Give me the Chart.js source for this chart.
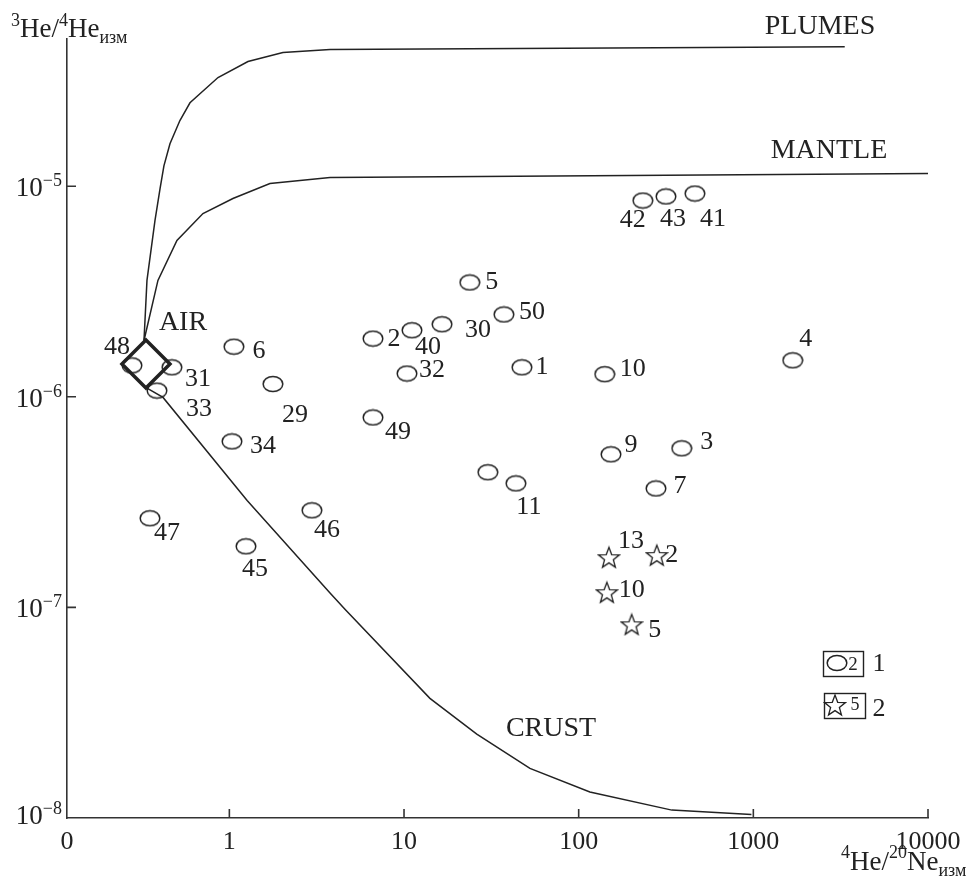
<!DOCTYPE html>
<html>
<head>
<meta charset="utf-8">
<script src="https://cdn.jsdelivr.net/npm/chart.js@4.4.1/dist/chart.umd.min.js"></script>
<style>
  html, body { margin: 0; padding: 0; background: #fff; }
  #wrap { width: 980px; height: 887px; position: relative; }
</style>
</head>
<body>
<div id="wrap"><canvas id="chart"></canvas></div>
<script>
// 4He/20Ne (x) vs 3He/4He (y), both log
const xMin = 0.1176, xMax = 10000
const yMin = 1e-8, yMax = 5e-5
const xTickValues = [xMin, 1, 10, 100, 1000, 10000]
const xTickLabels = ['0', '1', '10', '100', '1000', '10000']
const yTickValues = [1e-5, 1e-6, 1e-7, 1e-8]
const yTickExp = ['−5', '−6', '−7', '−8']

// mixing curves from AIR
const plumesX = [0.3245, 0.3375, 0.375, 0.401, 0.422, 0.457, 0.521, 0.595, 0.861, 1.278, 2.026, 3.77, 3336]
const plumesY = [1.85e-6, 3.57e-6, 6.87e-6, 9.75e-6, 1.25e-5, 1.59e-5, 2.05e-5, 2.49e-5, 3.28e-5, 3.91e-5, 4.31e-5, 4.46e-5, 4.6e-5]
const mantleX = [0.3245, 0.39, 0.501, 0.706, 1.048, 1.707, 3.77, 10000]
const mantleY = [1.85e-6, 3.57e-6, 5.53e-6, 7.42e-6, 8.74e-6, 1.03e-5, 1.1e-5, 1.15e-5]
const crustX = [0.3375, 0.417, 1.264, 3.77, 4.59, 14.07, 26.1, 52.6, 115.9, 341.6, 975]
const crustY = [1.1e-6, 9.93e-7, 3.22e-7, 1.17e-7, 9.8e-8, 3.7e-8, 2.5e-8, 1.72e-8, 1.33e-8, 1.09e-8, 1.04e-8]

const airX = [0.333]
const airY = [1.43e-6]

// samples, group 1 (circles)
const wellLabels = ['48', '31', '33', '6', '29', '34', '47', '45', '46', '5', '50', '2', '40', '30', '32', '1', '10', '49', '9', '', '11', '4', '3', '7', '42', '43', '41']
const wellX = [0.277, 0.469, 0.385, 1.062, 1.776, 1.035, 0.351, 1.245, 2.97, 23.8, 37.3, 6.64, 11.1, 16.5, 10.4, 47.3, 141, 6.64, 153, 30.2, 43.7, 1681, 389, 277, 233, 316, 463]
const wellY = [1.41e-6, 1.38e-6, 1.07e-6, 1.73e-6, 1.15e-6, 6.14e-7, 2.65e-7, 1.95e-7, 2.89e-7, 3.49e-6, 2.46e-6, 1.89e-6, 2.07e-6, 2.21e-6, 1.29e-6, 1.38e-6, 1.28e-6, 7.98e-7, 5.33e-7, 4.38e-7, 3.88e-7, 1.49e-6, 5.69e-7, 3.67e-7, 8.55e-6, 8.94e-6, 9.23e-6]

// samples, group 2 (stars)
const springLabels = ['13', '2', '10', '5']
const springX = [149, 280, 145, 201]
const springY = [1.73e-7, 1.77e-7, 1.18e-7, 8.31e-8]

// label placement (px from marker centre)
const wellLabelOffsets = [[-15, -20], [26, 10], [42, 17], [25, 3], [22, 29], [31, 3], [17, 13], [9, 21], [15, 18], [22, -2], [28, -4], [21, -1], [16, 15], [36, 4], [25, -5], [20, -2], [28, -7], [25, 13], [20, -11], [0, 0], [13, 22], [13, -23], [25, -8], [24, -4], [-10, 18], [7, 21], [18, 24]]
const springLabelOffsets = [[22, -18], [15, -2], [25, -4], [23, 4]]

const FONT = "'Liberation Serif', 'Times New Roman', serif"
const INK = '#222'

function pts(xs, ys) { return xs.map((x, i) => ({ x: x, y: ys[i] })) }

function makeEllipse() {
  const c = document.createElement('canvas')
  c.width = 22; c.height = 18
  const g = c.getContext('2d')
  g.strokeStyle = INK; g.lineWidth = 1.5
  g.beginPath(); g.ellipse(11, 9, 9.8, 7.6, 0, 0, Math.PI * 2); g.stroke()
  return c
}
function makeStar() {
  const c = document.createElement('canvas')
  c.width = 24; c.height = 24
  const g = c.getContext('2d')
  g.strokeStyle = INK; g.lineWidth = 1.3; g.lineJoin = 'miter'
  g.beginPath()
  for (let i = 0; i < 10; i++) {
    const r = i % 2 ? 4.6 : 11
    const a = -Math.PI / 2 + i * Math.PI / 5
    const px = 12 + r * Math.cos(a), py = 13 + r * Math.sin(a)
    i ? g.lineTo(px, py) : g.moveTo(px, py)
  }
  g.closePath(); g.stroke()
  return c
}
const ellipseImg = makeEllipse()
const starImg = makeStar()

function textAt(ctx, s, cx, cy, size, align) {
  ctx.font = size + 'px ' + FONT
  ctx.textAlign = align || 'center'
  ctx.textBaseline = 'alphabetic'
  ctx.fillText(s, cx, cy + size * 0.33)
}
// parts: [text, size, dy]
function richText(ctx, parts, x, base) {
  ctx.textAlign = 'left'
  ctx.textBaseline = 'alphabetic'
  parts.forEach(p => {
    ctx.font = p[1] + 'px ' + FONT
    ctx.fillText(p[0], x, base + p[2])
    x += ctx.measureText(p[0]).width
  })
  return x
}

const decor = {
  id: 'decor',
  afterDraw(chart) {
    const ctx = chart.ctx, a = chart.chartArea
    const xs = chart.scales.x, ys = chart.scales.y
    ctx.save()
    ctx.fillStyle = INK
    ctx.strokeStyle = '#333'
    ctx.lineWidth = 1.6
    // inward tick marks
    ctx.beginPath()
    yTickValues.slice(0, 3).forEach(v => {
      const y = ys.getPixelForValue(v)
      ctx.moveTo(a.left, y); ctx.lineTo(a.left + 9, y)
    })
    xTickValues.slice(1).forEach(v => {
      const x = xs.getPixelForValue(v)
      ctx.moveTo(x, a.bottom); ctx.lineTo(x, a.bottom - 9)
    })
    ctx.stroke()

    // y tick labels 10^n
    yTickValues.forEach((v, i) => {
      const y = ys.getPixelForValue(v) - (i === 3 ? 4 : 0)
      ctx.font = '18px ' + FONT
      const wSup = ctx.measureText(yTickExp[i]).width
      ctx.font = '27px ' + FONT
      const wMain = ctx.measureText('10').width
      const x0 = 62 - wSup - wMain
      richText(ctx, [['10', 27, 0], [yTickExp[i], 18, -10]], x0, y + 10)
    })

    // axis titles
    richText(ctx, [['3', 18, -11], ['He/', 27, 0], ['4', 18, -11], ['He', 27, 0], ['изм', 18, 6]], 11, 37)
    richText(ctx, [['4', 18, -12], ['He/', 27, 0], ['20', 18, -12], ['Ne', 27, 0], ['изм', 18, 6]], 841, 870)

    // point labels
    const drawLabels = (meta, labels, offs) => {
      meta.data.forEach((el, i) => {
        if (!labels[i]) return
        textAt(ctx, labels[i], el.x + offs[i][0], el.y + offs[i][1], 26)
      })
    }
    drawLabels(chart.getDatasetMeta(4), wellLabels, wellLabelOffsets)
    drawLabels(chart.getDatasetMeta(5), springLabels, springLabelOffsets)

    // curve names
    textAt(ctx, 'PLUMES', 820, 25, 28)
    textAt(ctx, 'MANTLE', 829, 149, 28)
    textAt(ctx, 'CRUST', 551, 727, 28)
    textAt(ctx, 'AIR', 183, 321, 28)

    // legend
    ctx.lineWidth = 1.4
    ctx.strokeStyle = INK
    ctx.strokeRect(823.5, 651.5, 40, 25)
    ctx.drawImage(ellipseImg, 826, 654)
    textAt(ctx, '2', 853, 664, 19)
    textAt(ctx, '1', 879, 662, 26)
    ctx.strokeRect(824.5, 693.5, 41, 25)
    ctx.drawImage(starImg, 823, 693)
    textAt(ctx, '5', 855, 704, 18)
    textAt(ctx, '2', 879, 707, 26)
    ctx.restore()
  }
}

const lineStyle = { showLine: true, pointRadius: 0, borderColor: INK, borderWidth: 1.5, tension: 0, fill: false }

new Chart(document.getElementById('chart'), {
  type: 'scatter',
  data: {
    datasets: [
      Object.assign({ label: 'PLUMES', data: pts(plumesX, plumesY) }, lineStyle),
      Object.assign({ label: 'MANTLE', data: pts(mantleX, mantleY) }, lineStyle),
      Object.assign({ label: 'CRUST', data: pts(crustX, crustY) }, lineStyle),
      {
        label: 'AIR', data: pts(airX, airY),
        pointStyle: 'rectRot', pointRadius: 24, borderWidth: 3.5,
        borderColor: INK, backgroundColor: 'rgba(0,0,0,0)'
      },
      {
        label: '1', data: pts(wellX, wellY),
        pointStyle: ellipseImg, pointRadius: 9
      },
      {
        label: '2', data: pts(springX, springY),
        pointStyle: starImg, pointRadius: 9
      }
    ]
  },
  options: {
    responsive: true,
    maintainAspectRatio: false,
    animation: false,
    layout: { padding: { left: 0, top: 39, right: 52, bottom: 0 } },
    plugins: { legend: { display: false }, tooltip: { enabled: false } },
    scales: {
      x: {
        type: 'logarithmic', min: xMin, max: xMax,
        grid: { display: false, drawTicks: false },
        border: { display: true, color: '#333', width: 1.6 },
        afterBuildTicks: s => { s.ticks = xTickValues.map(v => ({ value: v })) },
        afterFit: s => { s.height = 69 },
        ticks: {
          autoSkip: false, maxRotation: 0, padding: 9, color: INK,
          font: { family: FONT, size: 26 },
          callback: (v, i) => xTickLabels[i]
        }
      },
      y: {
        type: 'logarithmic', min: yMin, max: yMax,
        grid: { display: false, drawTicks: false },
        border: { display: true, color: '#333', width: 1.6 },
        afterBuildTicks: s => { s.ticks = yTickValues.map(v => ({ value: v })) },
        afterFit: s => { s.width = 67 },
        ticks: { display: false }
      }
    }
  },
  plugins: [decor]
})
</script>
</body>
</html>
